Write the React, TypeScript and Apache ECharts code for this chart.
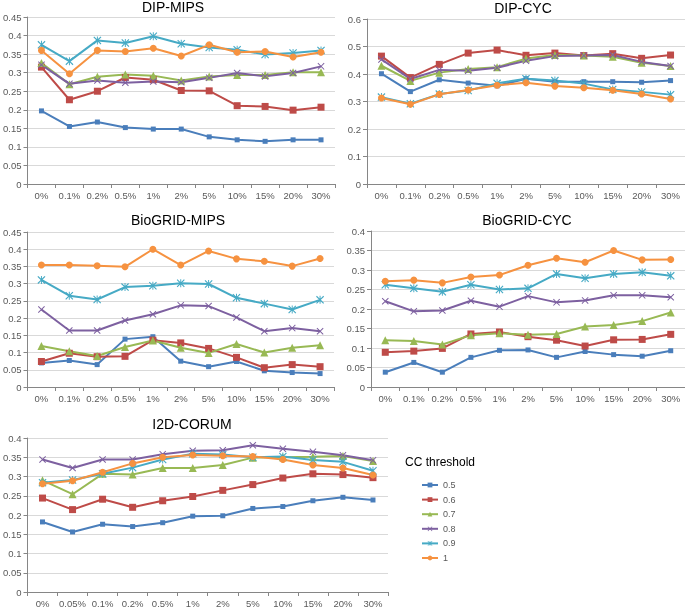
import React, { useEffect, useRef } from "react";
import * as echarts from "echarts";

const cats = ["0%", "0.1%", "0.2%", "0.5%", "1%", "2%", "5%", "10%", "15%", "20%", "30%"];
const catsCorum = ["0%", "0.05%", "0.1%", "0.2%", "0.5%", "1%", "2%", "5%", "10%", "15%", "20%", "30%"];
const thresholds = ["0.5", "0.6", "0.7", "0.8", "0.9", "1"];
const titles = ["DIP-MIPS", "DIP-CYC", "BioGRID-MIPS", "BioGRID-CYC", "I2D-CORUM"];

// rows: thresholds 0.5, 0.6, 0.7, 0.8, 0.9, 1
const dipMips = [
  [0.197, 0.155, 0.167, 0.152, 0.148, 0.148, 0.127, 0.119, 0.115, 0.119, 0.119],
  [0.315, 0.227, 0.25, 0.287, 0.281, 0.252, 0.251, 0.211, 0.209, 0.199, 0.207],
  [0.326, 0.269, 0.289, 0.295, 0.292, 0.279, 0.29, 0.294, 0.294, 0.301, 0.301],
  [0.321, 0.27, 0.279, 0.273, 0.276, 0.274, 0.286, 0.299, 0.29, 0.299, 0.317],
  [0.375, 0.331, 0.387, 0.38, 0.398, 0.378, 0.368, 0.362, 0.349, 0.353, 0.36],
  [0.36, 0.297, 0.36, 0.357, 0.366, 0.345, 0.375, 0.355, 0.357, 0.342, 0.355],
];
const dipCyc = [
  [0.401, 0.336, 0.379, 0.367, 0.357, 0.383, 0.372, 0.372, 0.372, 0.37, 0.376],
  [0.465, 0.387, 0.435, 0.476, 0.487, 0.468, 0.476, 0.467, 0.474, 0.457, 0.469],
  [0.43, 0.375, 0.405, 0.418, 0.425, 0.456, 0.469, 0.467, 0.463, 0.441, 0.429],
  [0.453, 0.382, 0.415, 0.412, 0.423, 0.448, 0.465, 0.467, 0.469, 0.444, 0.429],
  [0.316, 0.292, 0.327, 0.34, 0.366, 0.383, 0.376, 0.365, 0.344, 0.335, 0.325],
  [0.313, 0.29, 0.326, 0.342, 0.359, 0.368, 0.356, 0.35, 0.341, 0.327, 0.309],
];
const bioMips = [
  [0.07, 0.077, 0.065, 0.139, 0.146, 0.075, 0.059, 0.074, 0.047, 0.042, 0.039],
  [0.074, 0.098, 0.088, 0.089, 0.136, 0.128, 0.112, 0.086, 0.056, 0.065, 0.059],
  [0.119, 0.104, 0.09, 0.116, 0.135, 0.114, 0.099, 0.125, 0.1, 0.114, 0.121],
  [0.225, 0.164, 0.164, 0.193, 0.211, 0.237, 0.235, 0.202, 0.162, 0.171, 0.162],
  [0.311, 0.265, 0.254, 0.29, 0.294, 0.301, 0.299, 0.259, 0.242, 0.225, 0.253],
  [0.354, 0.354, 0.352, 0.349, 0.4, 0.354, 0.395, 0.372, 0.365, 0.351, 0.373],
];
const bioCyc = [
  [0.038, 0.063, 0.038, 0.076, 0.094, 0.095, 0.076, 0.091, 0.083, 0.079, 0.093],
  [0.089, 0.092, 0.099, 0.136, 0.141, 0.129, 0.12, 0.105, 0.121, 0.122, 0.135],
  [0.12, 0.118, 0.109, 0.133, 0.138, 0.134, 0.136, 0.155, 0.159, 0.169, 0.191],
  [0.22, 0.194, 0.196, 0.221, 0.206, 0.233, 0.217, 0.222, 0.235, 0.235, 0.23],
  [0.262, 0.253, 0.244, 0.262, 0.25, 0.253, 0.29, 0.279, 0.29, 0.294, 0.285],
  [0.271, 0.274, 0.267, 0.282, 0.287, 0.312, 0.33, 0.32, 0.35, 0.326, 0.327],
];
const i2dCorum = [
  [0.182, 0.156, 0.176, 0.17, 0.18, 0.197, 0.198, 0.217, 0.222, 0.237, 0.246, 0.239],
  [0.244, 0.214, 0.241, 0.22, 0.237, 0.248, 0.264, 0.279, 0.296, 0.307, 0.305, 0.297],
  [0.29, 0.254, 0.307, 0.305, 0.322, 0.322, 0.33, 0.349, 0.35, 0.351, 0.353, 0.34],
  [0.344, 0.322, 0.344, 0.344, 0.358, 0.367, 0.368, 0.381, 0.372, 0.364, 0.355, 0.342],
  [0.284, 0.291, 0.307, 0.323, 0.344, 0.359, 0.357, 0.35, 0.352, 0.343, 0.338, 0.315],
  [0.281, 0.289, 0.311, 0.334, 0.35, 0.356, 0.354, 0.352, 0.344, 0.33, 0.322, 0.304],
];
const yMax = [0.45, 0.6, 0.45, 0.4, 0.4];
const yStep = [0.05, 0.1, 0.05, 0.05, 0.05];

const colors = ["#4A7EBB", "#BE4B48", "#98B954", "#7D60A0", "#46AAC5", "#F69240"];
const X_PATH = "path://M0,1 L1,0 L5,4 L9,0 L10,1 L6,5 L10,9 L9,10 L5,6 L1,10 L0,9 L4,5 Z";
const STAR_PATH =
  "path://M0,1 L1,0 L5,4 L9,0 L10,1 L6,5 L10,9 L9,10 L5,6 L1,10 L0,9 L4,5 Z M4.4,0 L5.6,0 L5.6,10 L4.4,10 Z";
const symbols = ["rect", "rect", "triangle", X_PATH, STAR_PATH, "circle"];
const symbolSizes = [5, 7, 8, 7, 8, 7];

export default function App() {
  const ref = useRef<HTMLDivElement>(null);
  useEffect(() => {
    if (!ref.current) return;
    const chart = echarts.init(ref.current, null, { renderer: "svg" });
    const panels = [dipMips, dipCyc, bioMips, bioCyc, i2dCorum];
    const grids = [
      { left: 22, top: 17, width: 313, height: 167 },
      { left: 367, top: 19, width: 318, height: 165 },
      { left: 22, top: 232, width: 312, height: 155 },
      { left: 371, top: 231, width: 314, height: 156 },
      { left: 23, top: 438, width: 365, height: 156 },
    ];
    const titlePos = [
      { x: 173, y: 0 },
      { x: 523, y: 1 },
      { x: 178, y: 213 },
      { x: 527, y: 213 },
      { x: 192, y: 417 },
    ];
    const labelStyle = { color: "#595959", fontSize: 9.5, fontFamily: "Liberation Sans, Arial, sans-serif" };
    const series: any[] = [];
    panels.forEach((p, i) => {
      p.forEach((vals, j) => {
        series.push({
          type: "line",
          name: thresholds[j],
          xAxisIndex: i,
          yAxisIndex: i,
          data: vals,
          symbol: symbols[j],
          symbolSize: symbolSizes[j],
          showAllSymbol: true,
          lineStyle: { color: colors[j], width: 2 },
          itemStyle: { color: colors[j] },
          emphasis: { disabled: true },
        });
      });
    });
    chart.setOption({
      animation: false,
      color: colors,
      title: titles.map((t, i) => ({
        text: t,
        left: titlePos[i].x,
        top: titlePos[i].y,
        textAlign: "center",
        padding: 0,
        textStyle: { fontSize: 14, fontWeight: "normal", color: "#000", fontFamily: "Liberation Sans, Arial, sans-serif" },
      })),
      grid: grids,
      xAxis: grids.map((_, i) => ({
        type: "category",
        gridIndex: i,
        data: i === 4 ? catsCorum : cats,
        boundaryGap: true,
        axisLine: { lineStyle: { color: "#868686", width: 1 } },
        axisTick: { show: true, length: 4, lineStyle: { color: "#868686" } },
        axisLabel: { ...labelStyle, interval: 0, margin: 6 },
        splitLine: { show: false },
      })),
      yAxis: grids.map((_, i) => ({
        type: "value",
        gridIndex: i,
        min: 0,
        max: yMax[i],
        interval: yStep[i],
        axisLine: { show: true, lineStyle: { color: "#868686", width: 1 } },
        axisTick: { show: true, length: 4, lineStyle: { color: "#868686" } },
        axisLabel: { ...labelStyle, margin: 6 },
        splitLine: { show: true, lineStyle: { color: "#D9D9D9", width: 1 } },
      })),
      legend: {
        orient: "vertical",
        left: 421,
        top: 480,
        padding: 0,
        itemWidth: 16,
        itemHeight: 6,
        itemGap: 4.6,
        data: thresholds,
        textStyle: { fontSize: 9, lineHeight: 10, color: "#595959", fontFamily: "Liberation Sans, Arial, sans-serif" },
      },
      graphic: [
        {
          type: "text",
          left: 405,
          top: 456,
          style: { text: "CC threshold", fontSize: 12, fill: "#000", fontFamily: "Liberation Sans, Arial, sans-serif" },
        },
      ],
      series,
    });
    return () => chart.dispose();
  }, []);
  return <div ref={ref} style={{ position: "fixed", left: 0, top: 0, width: 685, height: 608 }} />;
}
